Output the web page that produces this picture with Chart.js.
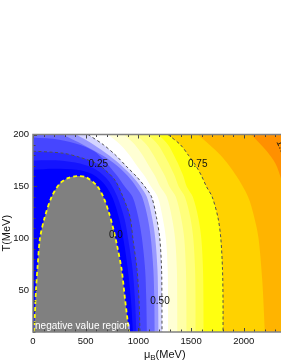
<!DOCTYPE html>
<html lang="en">
<head>
  <meta charset="UTF-8" />
  <title>Contour - muB vs T</title>
  <script src="https://cdn.jsdelivr.net/npm/chart.js"></script>
  <style>
    body {
      margin: 0;
      padding: 0;
      background: #fff;
      overflow: hidden;
    }
    .wrap {
      width: 330px;
      height: 363px;
    }
  </style>
</head>
<body>
  <div class="wrap"><canvas id="contourChart" width="330" height="363"></canvas></div>

  <script>
    // axes
    const muTicks = [0, 500, 1000, 1500, 2000, 2500];
    const tTicks = [50, 100, 150, 200];
    const muMax = 2500, tMin = 10, tMax = 200;

    // curves, [muB (MeV), T (MeV)]
    const zeroEdge = [[5,10],[12,15],[28,50],[45,75],[66,100],[110,120],[177,140],[256,153],[330,158],[414,160],[500,159],[604,151],[667,140],[720,125],[765,108],[794,95],[841,70],[875,40],[911,10]];
    const band1 = [[0,166],[200,167],[414,166],[560,162],[680,152],[760,138],[820,118],[860,98],[900,70],[930,40],[948,10]];
    const band2 = [[0,175],[250,175],[446,172],[600,166],[720,155],[800,140],[870,118],[905,98],[945,70],[968,40],[980,10]];
    const c025 = [[0,184],[285,182],[446,178],[607,172],[683,166],[778,156],[854,140],[920,121],[949,99],[987,70],[1006,41],[1015,10]];
    const band3 = [[0,197],[250,195],[450,190],[580,184],[660,177],[720,170],[800,160],[870,150],[944,140],[1000,120],[1034,100],[1064,70],[1075,40],[1080,10]];
    const band4 = [[280,200],[480,190],[657,180],[798,170],[900,160],[977,150],[1035,140],[1088,120],[1118,100],[1142,70],[1151,40],[1154,10]];
    const band5 = [[410,200],[580,190],[720,180],[840,170],[940,160],[1020,150],[1080,140],[1130,120],[1160,100],[1181,70],[1187,40],[1190,10]];
    const c050 = [[522,200],[670,190],[785,180],[880,170],[978,160],[1060,150],[1125,140],[1172,120],[1203,100],[1220,70],[1223,40],[1224,10]];
    const yel1 = [[712,200],[831,190],[916,180],[986,170],[1059,160],[1119,150],[1183,140],[1230,120],[1261,100],[1278,70],[1281,40],[1282,10]];
    const yel2 = [[864,200],[969,190],[1040,180],[1099,170],[1158,160],[1206,150],[1269,140],[1318,120],[1348,100],[1365,70],[1368,40],[1369,10]];
    const yel3 = [[977,200],[1079,190],[1144,180],[1199,170],[1252,160],[1294,150],[1355,140],[1405,120],[1435,100],[1451,70],[1455,40],[1456,10]];
    const yel4 = [[1091,200],[1188,190],[1247,180],[1299,170],[1345,160],[1382,150],[1441,140],[1493,120],[1521,100],[1538,70],[1542,40],[1542,10]];
    const yel5 = [[1190,200],[1283,190],[1337,180],[1385,170],[1426,160],[1458,150],[1516,140],[1568,120],[1597,100],[1613,70],[1617,40],[1618,10]];
    const c075 = [[1281,200],[1400,190],[1475,180],[1545,170],[1600,160],[1645,150],[1700,140],[1755,120],[1782,100],[1798,70],[1803,40],[1803,10]];
    const orangeA = [[1565,200],[1780,180],[1930,160],[2040,140],[2100,120],[2140,100],[2175,60],[2200,10]];
    const orangeB = [[2070,200],[2200,186],[2300,172],[2360,155],[2430,125],[2470,90],[2490,50],[2500,10]];

    // contour labels
    const labelText = ['0.25', '0.0', '0.50', '0.75', '1.0'];
    const labelMu = [620, 787, 1205, 1563, 2360];
    const labelT = [171.4, 103.2, 39.8, 171.4, 188];

    const toPts = arr => arr.map(p => ({ x: p[0], y: p[1] }));

    // region above/right of a curve, filled up to the top of the plot
    function bandSet(curve, color) {
      const last = curve[curve.length - 1];
      return {
        data: toPts(curve.concat([last, [muMax, tMin]])),
        fill: 'end',
        backgroundColor: color,
        borderColor: 'rgba(0,0,0,0)',
        borderWidth: 0,
        pointRadius: 0,
        tension: 0.3
      };
    }

    const bands = [
      [band1, '#1414ff'],
      [band2, '#2a2aff'],
      [c025, '#4646ff'],
      [band3, '#6a6aff'],
      [band4, '#9898ff'],
      [band5, '#d4d4ff'],
      [c050, '#ffffff'],
      [yel1, '#ffffd4'],
      [yel2, '#ffffa8'],
      [yel3, '#ffff7c'],
      [yel4, '#ffff4c'],
      [yel5, '#ffff10'],
      [c075, '#ffd200'],
      [orangeA, '#ffb400'],
      [orangeB, '#ff9000']
    ];

    const datasets = bands.map(b => bandSet(b[0], b[1]));

    // negative value region
    datasets.push({
      data: toPts(zeroEdge),
      fill: 'start',
      backgroundColor: '#808080',
      borderColor: '#ffff00',
      borderWidth: 1.8,
      borderDash: [4, 3],
      pointRadius: 0,
      tension: 0.3
    });

    [c025, c050, c075].forEach(c => {
      datasets.push({
        data: toPts(c),
        fill: false,
        borderColor: '#505050',
        borderWidth: 1,
        borderDash: [3, 2.5],
        pointRadius: 0,
        tension: 0.3
      });
    });

    // first in list = bottom layer
    datasets.forEach((d, i) => { d.order = datasets.length - i; });

    const FONT = '"Liberation Sans", Arial, sans-serif';

    const decor = {
      id: 'decor',
      beforeDatasetsDraw(chart) {
        const { ctx, chartArea: a } = chart;
        ctx.save();
        ctx.fillStyle = '#0000ff';
        ctx.fillRect(a.left, a.top, a.right - a.left, a.bottom - a.top);
        ctx.restore();
      },
      afterDatasetsDraw(chart) {
        const { ctx, chartArea: a, scales: { x, y } } = chart;
        ctx.save();

        // inward tick marks
        ctx.strokeStyle = '#444';
        ctx.lineWidth = 1;
        ctx.beginPath();
        for (let v = 0; v <= muMax; v += 100) {
          const px = Math.round(x.getPixelForValue(v)) + 0.5;
          const len = v % 500 === 0 ? 4 : 2.5;
          ctx.moveTo(px, a.top); ctx.lineTo(px, a.top + len);
          ctx.moveTo(px, a.bottom); ctx.lineTo(px, a.bottom - len);
        }
        for (let v = tMin; v <= tMax; v += 10) {
          const py = Math.round(y.getPixelForValue(v)) + 0.5;
          const len = v % 50 === 0 ? 4 : 2.5;
          ctx.moveTo(a.left, py); ctx.lineTo(a.left + len, py);
          ctx.moveTo(a.right, py); ctx.lineTo(a.right - len, py);
        }
        ctx.stroke();

        // frame
        ctx.strokeStyle = '#808080';
        ctx.lineWidth = 1.5;
        ctx.strokeRect(a.left, a.top, a.right - a.left, a.bottom - a.top);

        // contour labels
        ctx.fillStyle = '#111';
        ctx.font = '10px ' + FONT;
        ctx.textAlign = 'center';
        ctx.textBaseline = 'middle';
        labelText.forEach((t, i) => {
          const px = x.getPixelForValue(labelMu[i]);
          const py = y.getPixelForValue(labelT[i]);
          ctx.save();
          ctx.translate(px, py);
          if (t === '1.0') ctx.rotate(65 * Math.PI / 180);
          ctx.fillText(t, 0, 0);
          ctx.restore();
        });

        ctx.fillStyle = '#fff';
        ctx.textAlign = 'left';
        ctx.fillText('negative value region', x.getPixelForValue(19), y.getPixelForValue(15.5));
        ctx.restore();
      },
      afterDraw(chart) {
        const { ctx, chartArea: a } = chart;
        ctx.save();
        ctx.fillStyle = '#111';
        ctx.font = '11px ' + FONT;
        ctx.textAlign = 'center';
        ctx.textBaseline = 'middle';
        ctx.translate(7, (a.top + a.bottom) / 2);
        ctx.rotate(-Math.PI / 2);
        ctx.fillText('T(MeV)', 0, 0);
        ctx.restore();

        ctx.save();
        ctx.fillStyle = '#111';
        ctx.textAlign = 'left';
        ctx.textBaseline = 'alphabetic';
        const big = '11px ' + FONT, small = '8px ' + FONT;
        ctx.font = big;
        const w1 = ctx.measureText('\u03bc').width;
        const w3 = ctx.measureText('(MeV)').width;
        ctx.font = small;
        const w2 = ctx.measureText('B').width;
        const x0 = (a.left + a.right) / 2 - (w1 + w2 + w3) / 2;
        const yb = 357.5;
        ctx.font = big;
        ctx.fillText('\u03bc', x0, yb);
        ctx.font = small;
        ctx.fillText('B', x0 + w1, yb + 2.5);
        ctx.font = big;
        ctx.fillText('(MeV)', x0 + w1 + w2, yb);
        ctx.restore();
      }
    };

    const ctxContour = document.getElementById('contourChart').getContext('2d');
    const contourChart = new Chart(ctxContour, {
      type: 'line',
      data: { datasets: datasets },
      options: {
        responsive: false,
        animation: false,
        events: [],
        layout: { padding: { top: 134.5, right: 33.5, left: 0, bottom: 0 } },
        plugins: {
          legend: { display: false },
          tooltip: { enabled: false }
        },
        scales: {
          x: {
            type: 'linear',
            min: 0,
            max: muMax,
            afterBuildTicks: s => { s.ticks = muTicks.map(v => ({ value: v })); },
            afterFit: s => { s.height = 31; },
            grid: { display: false, drawTicks: false },
            border: { display: false },
            ticks: {
              padding: 4, color: '#111', maxRotation: 0, autoSkip: false,
              font: { family: FONT, size: 9.5 },
              callback: v => String(v)
            }
          },
          y: {
            type: 'linear',
            min: tMin,
            max: tMax,
            afterBuildTicks: s => { s.ticks = tTicks.map(v => ({ value: v })); },
            afterFit: s => { s.width = 33; },
            grid: { display: false, drawTicks: false },
            border: { display: false },
            ticks: {
              padding: 4, color: '#111',
              font: { family: FONT, size: 9.5 },
              callback: v => String(v)
            }
          }
        }
      },
      plugins: [decor]
    });
  </script>
</body>
</html>
